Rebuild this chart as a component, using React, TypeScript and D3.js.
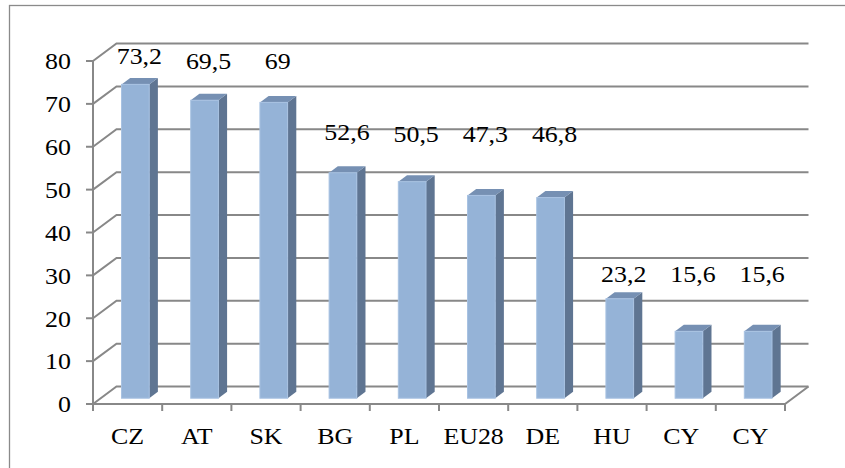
import React, { useEffect, useRef } from "react";
import * as d3 from "d3";

const categories = ["CZ", "AT", "SK", "BG", "PL", "EU28", "DE", "HU", "CY", "CY"];
const values = [73.2, 69.5, 69, 52.6, 50.5, 47.3, 46.8, 23.2, 15.6, 15.6];
// value level where each data label sits (labels were moved in the original)
const labelLevels = [79.4, 78.2, 78.2, 61.5, 61.1, 61.1, 61.1, 28.4, 28.4, 28.4];
const yTicks = [0, 10, 20, 30, 40, 50, 60, 70, 80];

const W = 845;
const H = 468;

export default function App() {
  const ref = useRef<SVGSVGElement>(null);

  useEffect(() => {
    const svg = d3.select(ref.current);
    svg.selectAll("*").remove();

    const grid = "#888888";
    // depth of the 3d box (oblique offset of the back wall)
    const DX = 23.5;
    const DY = -17.5;
    const barD0 = 0.33;
    const barD1 = 0.7;

    const x = d3
      .scaleBand<number>()
      .domain(d3.range(categories.length))
      .range([93, 785]);
    const y = d3.scaleLinear().domain([0, 80]).range([404, 61]);
    const x0 = x.range()[0];
    const x1 = x.range()[1];

    // outer border
    svg
      .append("rect")
      .attr("x", 9.5)
      .attr("y", 5.5)
      .attr("width", 900)
      .attr("height", 600)
      .attr("fill", "none")
      .attr("stroke", "#8a8a8a")
      .attr("stroke-width", 1.3);

    // wall gridlines: left diagonal + back horizontal
    const g = svg.append("g").attr("stroke", grid).attr("stroke-width", 2).attr("fill", "none");
    g.selectAll(".gl")
      .data(yTicks)
      .join("path")
      .attr("class", "gl")
      .attr(
        "d",
        (v) =>
          `M${x0},${y(v)} L${x0 + DX},${y(v) + DY} L${x1 + DX},${y(v) + DY}`
      );

    // floor
    g.append("path").attr(
      "d",
      `M${x0},${y(0)} L${x1},${y(0)} L${x1 + DX},${y(0) + DY}`
    );

    // y axis line + ticks
    g.append("line")
      .attr("x1", x0)
      .attr("x2", x0)
      .attr("y1", y(0))
      .attr("y2", y(80));
    g.selectAll(".yt")
      .data(yTicks)
      .join("line")
      .attr("class", "yt")
      .attr("x1", x0 - 7)
      .attr("x2", x0)
      .attr("y1", (v) => y(v))
      .attr("y2", (v) => y(v));

    // category ticks
    g.selectAll(".xt")
      .data(d3.range(categories.length + 1))
      .join("line")
      .attr("class", "xt")
      .attr("x1", (i) => x0 + i * x.step())
      .attr("x2", (i) => x0 + i * x.step())
      .attr("y1", y(0))
      .attr("y2", y(0) + 7);

    // bars
    const bw = x.step() * 0.4;
    const bars = svg
      .selectAll(".bar")
      .data(values)
      .join("g")
      .attr("class", "bar");

    bars.each(function (v, i) {
      const b = d3.select(this);
      const cx = (x(i) as number) + x.step() / 2;
      const fx = cx - bw / 2 + barD0 * DX;
      const fyTop = y(v) + barD0 * DY;
      const fyBot = y(0) + barD0 * DY;
      const ddx = (barD1 - barD0) * DX;
      const ddy = (barD1 - barD0) * DY;
      // side
      b.append("path")
        .attr(
          "d",
          `M${fx + bw},${fyTop} L${fx + bw + ddx},${fyTop + ddy} L${fx + bw + ddx},${fyBot + ddy} L${fx + bw},${fyBot} Z`
        )
        .attr("fill", "#5f7592");
      // top
      b.append("path")
        .attr(
          "d",
          `M${fx},${fyTop} L${fx + ddx},${fyTop + ddy} L${fx + bw + ddx},${fyTop + ddy} L${fx + bw},${fyTop} Z`
        )
        .attr("fill", "#7690b3");
      // front
      b.append("rect")
        .attr("x", fx)
        .attr("y", fyTop)
        .attr("width", bw)
        .attr("height", fyBot - fyTop)
        .attr("fill", "#95b3d7")
        .attr("stroke", "#a8c2e2")
        .attr("stroke-width", 1);
    });

    const addText = (tx: number, ty: number, txt: string, anchor: string) =>
      svg
        .append("text")
        .attr("transform", `translate(${tx},${ty}) scale(1.08,1)`)
        .attr("text-anchor", anchor)
        .attr("style", "font-family: 'Liberation Serif', 'Times New Roman', Times, serif; font-size: 24px")
        .attr("fill", "#000")
        .text(txt);

    // y tick labels
    yTicks.forEach((v) => addText(x0 - 22, y(v) + 8.3, String(v), "end"));

    // category labels
    categories.forEach((c, i) =>
      addText((x(i) as number) + x.step() / 2, 444, c, "middle")
    );

    // data labels
    values.forEach((v, i) =>
      addText(
        (x(i) as number) + x.step() / 2 + DX / 2,
        y(labelLevels[i]),
        String(v).replace(".", ","),
        "middle"
      )
    );
  }, []);

  return (
    <svg
      ref={ref}
      width={W}
      height={H}
      style={{ position: "absolute", left: 0, top: 0, background: "#fff" }}
    />
  );
}
